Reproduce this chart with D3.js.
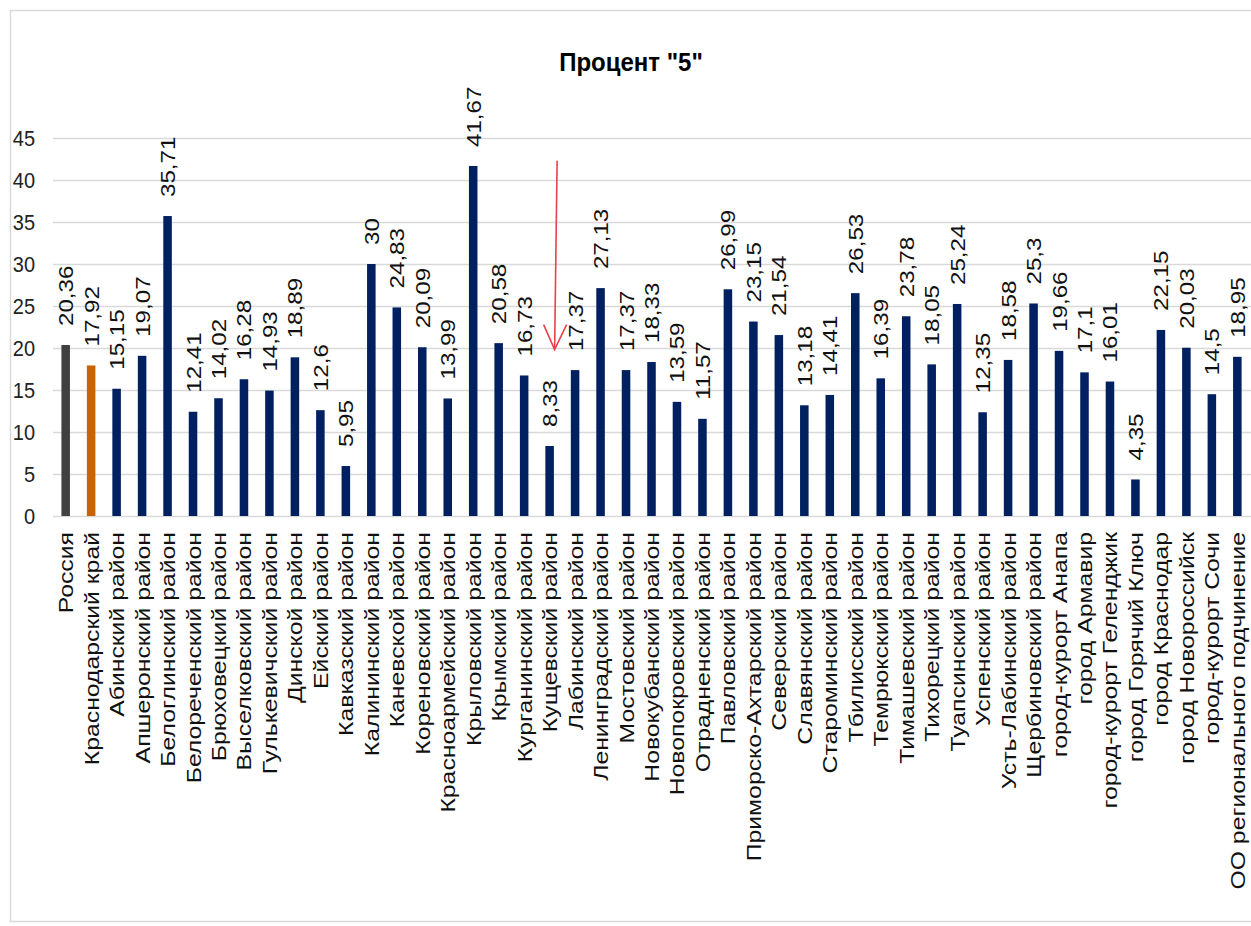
<!DOCTYPE html>
<html>
<head>
<meta charset="utf-8">
<script src="https://cdn.jsdelivr.net/npm/d3@7/dist/d3.min.js"></script>
<style>
  html, body { margin: 0; padding: 0; background: #fff; }
  svg { display: block; font-family: "Liberation Sans", Arial, sans-serif; }
</style>
</head>
<body>
<svg id="chart" width="1251" height="926"></svg>
<script>
const title = 'Процент "5"';
const categories = [
  "Россия", "Краснодарский край", "Абинский район", "Апшеронский район",
  "Белоглинский район", "Белореченский район", "Брюховецкий район",
  "Выселковский район", "Гулькевичский район", "Динской район", "Ейский район",
  "Кавказский район", "Калининский район", "Каневской район", "Кореновский район",
  "Красноармейский район", "Крыловский район", "Крымский район",
  "Курганинский район", "Кущевский район", "Лабинский район",
  "Ленинградский район", "Мостовский район", "Новокубанский район",
  "Новопокровский район", "Отрадненский район", "Павловский район",
  "Приморско-Ахтарский район", "Северский район", "Славянский район",
  "Староминский район", "Тбилисский район", "Темрюкский район",
  "Тимашевский район", "Тихорецкий район", "Туапсинский район",
  "Успенский район", "Усть-Лабинский район", "Щербиновский район",
  "город-курорт Анапа", "город Армавир", "город-курорт Геленджик",
  "город Горячий Ключ", "город Краснодар", "город Новороссийск",
  "город-курорт Сочи", "ОО регионального подчинение"
];
const values = [
  20.36, 17.92, 15.15, 19.07, 35.71, 12.41, 14.02, 16.28, 14.93, 18.89, 12.6,
  5.95, 30, 24.83, 20.09, 13.99, 41.67, 20.58, 16.73, 8.33, 17.37, 27.13,
  17.37, 18.33, 13.59, 11.57, 26.99, 23.15, 21.54, 13.18, 14.41, 26.53,
  16.39, 23.78, 18.05, 25.24, 12.35, 18.58, 25.3, 19.66, 17.1, 16.01, 4.35,
  22.15, 20.03, 14.5, 18.95
];
const yTicks = [0, 5, 10, 15, 20, 25, 30, 35, 40, 45];
// annotation arrow: points at Кущевский район
const arrowTarget = "Кущевский район";
const arrowFrom = 42.3, arrowTo = 19.8;

const svg = d3.select("#chart");
const W = 1251, H = 926;

const x = d3.scaleBand().domain(categories).range([53, 1250]).paddingInner(0.665).paddingOuter(0.33);
const y = d3.scaleLinear().domain([0, 45]).range([516, 138]);

// frame
svg.append("path")
  .attr("d", `M1251,10.5 H10.5 V921.5 H1251`)
  .attr("fill", "none").attr("stroke", "#d9d9d9").attr("stroke-width", 1.5);

// title
svg.append("text")
  .attr("transform", "translate(631,71) scale(1,1.09)")
  .attr("text-anchor", "middle")
  .attr("font-size", 24).attr("font-weight", "bold").attr("fill", "#000")
  .text(title);

// y axis with gridlines
const yAxis = d3.axisLeft(y).tickValues(yTicks).tickSize(0).tickPadding(0);
const gy = svg.append("g").attr("transform", "translate(53,0)").call(yAxis);
gy.select(".domain").remove();
gy.selectAll(".tick line").remove();
gy.selectAll(".tick").append("line")
  .attr("x1", 0).attr("x2", W - 53)
  .attr("stroke", "#d9d9d9").attr("stroke-width", 1.6);
gy.selectAll(".tick text")
  .attr("x", -18).attr("dy", null)
  .attr("transform", "translate(0,7.5) scale(1,1.1)")
  .attr("font-size", 20).attr("font-family", "Liberation Sans, Arial, sans-serif")
  .attr("fill", "#222");

// bars
const color = (i) => i === 0 ? "#404040" : (i === 1 ? "#c86406" : "#002060");
const bw = x.bandwidth();
svg.append("g").selectAll("rect").data(values).join("rect")
  .attr("x", (d, i) => x(categories[i]))
  .attr("width", bw)
  .attr("y", d => y(d))
  .attr("height", d => y(0) - y(d))
  .attr("fill", (d, i) => color(i));

// value labels
const fmt = v => String(v).replace(".", ",");
svg.append("g").selectAll("text").data(values).join("text")
  .attr("transform", (d, i) => {
    const cx = x(categories[i]) + bw / 2 + 7.5;
    return `translate(${cx},${y(d) - 19}) rotate(-90) scale(1.15,1)`;
  })
  .attr("text-anchor", "start")
  .attr("font-size", 21).attr("fill", "#111")
  .text(d => fmt(d));

// category labels
const xAxis = d3.axisBottom(x).tickSize(0).tickPadding(0);
const gx = svg.append("g").attr("transform", "translate(0,532)").call(xAxis);
gx.select(".domain").remove();
gx.selectAll(".tick text")
  .attr("y", 0).attr("dy", null)
  .attr("transform", "translate(7.5,0) rotate(-90) scale(1.18,1)")
  .attr("text-anchor", "end")
  .attr("font-size", 21).attr("font-family", "Liberation Sans, Arial, sans-serif")
  .attr("fill", "#111");

// red arrow annotation
const ax = x(arrowTarget) + bw / 2 + 5;
const ay1 = y(arrowFrom), ay2 = y(arrowTo);
const arrow = svg.append("g").attr("stroke", "#e8414b").attr("stroke-width", 1.6).attr("fill", "none");
arrow.append("line").attr("x1", ax + 2.5).attr("y1", ay1).attr("x2", ax).attr("y2", ay2);
arrow.append("path").attr("d", `M${ax - 11},${ay2 - 25} L${ax},${ay2} L${ax + 12},${ay2 - 25}`);
</script>
</body>
</html>
